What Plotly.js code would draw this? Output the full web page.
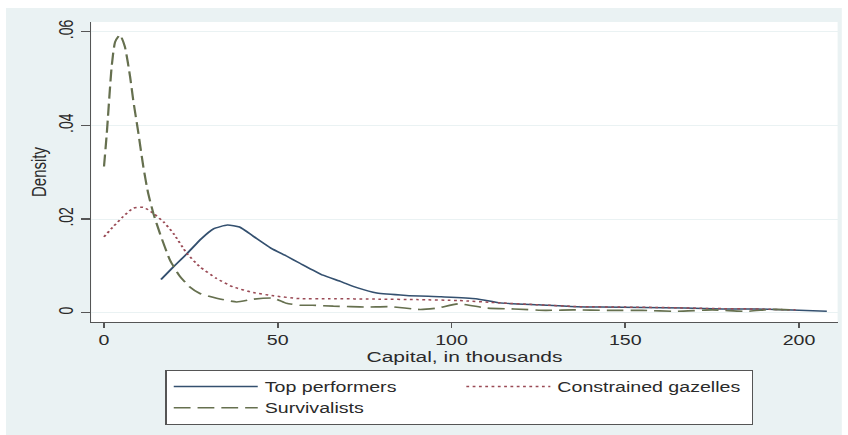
<!DOCTYPE html>
<html>
<head>
<meta charset="utf-8">
<script src="https://cdn.plot.ly/plotly-3.0.1.min.js"></script>
<style>
  html, body { margin: 0; padding: 0; background: #ffffff; width: 848px; height: 435px; overflow: hidden; }
  #wrap { position: absolute; left: 6px; top: 8px; width: 597px; height: 427px; transform: scaleX(1.4); transform-origin: 0 0; }
  #chart { width: 597px; height: 427px; }
</style>
</head>
<body>
<div id="wrap"><div id="chart"></div></div>
<script>
// Series names
const seriesNames = ["Top performers", "Constrained gazelles", "Survivalists"];

// Top performers (capital in thousands, density)
const topX = [16.4, 20, 24, 28, 31.5, 35.5, 39, 43, 48, 52.5, 56.5, 63, 68, 73, 78.5, 87, 97, 107, 114, 125, 136, 143, 155, 167, 178, 188, 198, 208];
const topY = [0.0071, 0.0098, 0.0127, 0.0158, 0.0179, 0.0187, 0.0183, 0.0163, 0.0138, 0.0121, 0.0105, 0.0080, 0.0067, 0.0053, 0.0042, 0.0037, 0.0034, 0.0030, 0.0021, 0.0017, 0.0013, 0.0012, 0.0011, 0.0010, 0.0008, 0.0008, 0.0006, 0.0003];

// Constrained gazelles
const gazX = [0, 2.7, 5.5, 8.4, 11.3, 14.2, 17.1, 20, 23.8, 27.6, 32.4, 37.2, 43, 48.8, 56.4, 65, 79, 90, 102, 114, 125, 137, 150, 162, 175, 187, 199];
const gazY = [0.0162, 0.0184, 0.0205, 0.0223, 0.0225, 0.0212, 0.0194, 0.0169, 0.0127, 0.0098, 0.0073, 0.0055, 0.0043, 0.0036, 0.0030, 0.0030, 0.0029, 0.0028, 0.0026, 0.0021, 0.0017, 0.0013, 0.0012, 0.0011, 0.0009, 0.0008, 0.0006];

// Survivalists
const surX = [0, 0.8, 2.2, 3.2, 4.6, 6, 7.5, 8.4, 9.9, 11.3, 12.7, 14.2, 16.1, 19, 21.9, 24.7, 27.6, 32.4, 38.2, 43, 48.8, 52.5, 56.4, 60, 66, 71, 76, 82, 91, 96, 102, 110, 118, 127, 135, 145, 155, 165, 175, 185, 192, 199];
const surY = [0.0312, 0.0383, 0.0525, 0.0578, 0.0593, 0.0568, 0.0504, 0.0454, 0.0383, 0.0312, 0.0255, 0.0212, 0.0169, 0.0112, 0.0077, 0.0055, 0.0041, 0.0031, 0.0023, 0.0029, 0.0031, 0.0020, 0.0016, 0.0016, 0.0014, 0.0013, 0.0012, 0.0013, 0.0007, 0.0010, 0.0019, 0.0010, 0.0008, 0.0005, 0.0006, 0.0005, 0.0005, 0.0003, 0.0006, 0.0003, 0.0007, 0.0006];

// Axis ticks
const xTickVals = [0, 50, 100, 150, 200];
const xTickText = ["0", "50", "100", "150", "200"];
const yTickVals = [0, 0.02, 0.04, 0.06];
const yTickText = ["0", ".02", ".04", ".06"];

const FONT = "Liberation Sans, Arial, sans-serif";
const TXT = "#2a2a2a";
const AX = "#555555";

const traces = [
  { x: topX, y: topY, name: seriesNames[0], type: "scatter", mode: "lines",
    line: { color: "#34506f", width: 1.5, shape: "spline", smoothing: 0.5 }, legendwidth: 134 },
  { x: gazX, y: gazY, name: seriesNames[1], type: "scatter", mode: "lines",
    line: { color: "#9a4a55", width: 1.5, dash: "2px,2.5px", shape: "spline", smoothing: 0.5 }, legendwidth: 134 },
  { x: surX, y: surY, name: seriesNames[2], type: "scatter", mode: "lines",
    line: { color: "#66704f", width: 1.6, dash: "12px,5px", shape: "spline", smoothing: 0.5 }, legendwidth: 134 }
];

const layout = {
  width: 597, height: 427,
  paper_bgcolor: "#eaf2f3",
  plot_bgcolor: "#ffffff",
  margin: { l: 61, r: 3, t: 14, b: 113, autoexpand: false },
  font: { family: FONT, color: TXT, size: 15 },
  showlegend: true,
  xaxis: {
    range: [-3.63, 211.1],
    tickvals: xTickVals, ticktext: xTickText,
    ticks: "outside", ticklen: 5, tickwidth: 1.2, tickcolor: AX,
    showline: true, linecolor: AX, linewidth: 1.3,
    showgrid: false, zeroline: false,
    tickfont: { family: FONT, size: 14, color: TXT },
    title: { text: "Capital, in thousands", font: { family: FONT, size: 15, color: TXT }, standoff: 3 },
    automargin: false
  },
  yaxis: {
    range: [-0.00198, 0.06204],
    tickvals: yTickVals, ticktext: yTickText,
    tickangle: -90,
    ticks: "outside", ticklen: 6, tickwidth: 1.2, tickcolor: AX,
    showline: true, linecolor: AX, linewidth: 1.3,
    showgrid: true, gridcolor: "#eaf2f3", gridwidth: 1,
    zeroline: false,
    tickfont: { family: FONT, size: 14, color: TXT },
    title: { text: "Density", font: { family: FONT, size: 15, color: TXT }, standoff: 2 },
    automargin: false
  },
  legend: {
    orientation: "h",
    x: 0.0991, xanchor: "left", xref: "paper",
    y: -0.16, yanchor: "top", yref: "paper",
    bgcolor: "#ffffff", bordercolor: AX, borderwidth: 1,
    itemwidth: 60,
    traceorder: "normal",
    font: { family: FONT, size: 14, color: TXT }
  }
};

Plotly.newPlot("chart", traces, layout, { displayModeBar: false, staticPlot: true });
</script>
</body>
</html>
